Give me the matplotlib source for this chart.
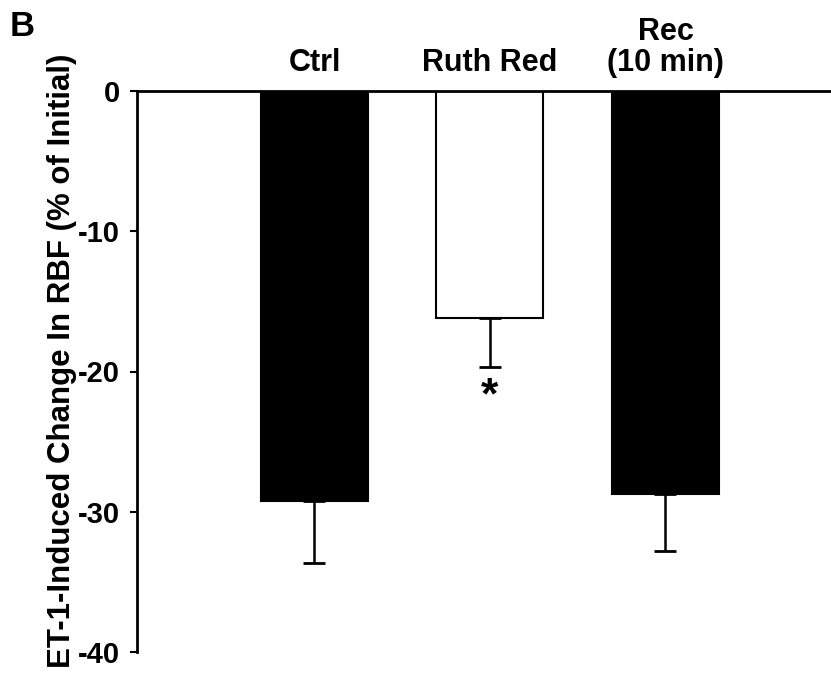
import numpy as np
import matplotlib
matplotlib.use('Agg')
import matplotlib.pyplot as plt

plt.rcParams['font.family'] = ['Liberation Sans', 'DejaVu Sans']
plt.rcParams['font.weight'] = 'bold'

# data
groups = ['Ctrl', 'Ruth Red', 'Rec\n(10 min)']
change = [-29.2, -16.2, -28.7]
sem = [4.45, 3.45, 4.1]
colors = ['black', 'white', 'black']
y_ticks = [0, -10, -20, -30, -40]

fig = plt.figure(figsize=(8.31, 6.73), dpi=100)
ax = fig.add_axes([137 / 831, 1 - 652 / 673, 694 / 831, (652 - 91) / 673])

x = np.arange(len(groups))
ax.bar(x, change, width=0.61, color=colors, edgecolor='black', linewidth=1.5, zorder=2)
# error bars point away from zero only
ax.errorbar(x, change, yerr=[sem, [0] * len(sem)], fmt='none', ecolor='black',
            elinewidth=1.8, capsize=8, capthick=2, zorder=1)

# significance marker under Ruth Red
ax.text(x[1], change[1] - sem[1] - 2.95, '*', ha='center', va='baseline',
        fontsize=32, fontweight='bold')

# group names above the plot
for xi, name in zip(x, groups):
    ax.text(xi, 0.9, name, ha='center', va='bottom', fontsize=22,
            fontweight='bold', linespacing=1.05)

ax.set_xlim(-1.011, 2 + (831 - 665.5) / 175.5)
ax.set_ylim(-40, 0)
ax.set_yticks(y_ticks)
ax.set_yticklabels(['0', '-10', '-20', '-30', '-40'])
ax.set_xticks([])
ax.tick_params(axis='y', direction='out', length=5, width=1.5, pad=7, labelsize=21)
for lab in ax.get_yticklabels():
    lab.set_fontweight('bold')

ax.spines['right'].set_visible(False)
ax.spines['bottom'].set_visible(False)
ax.spines['left'].set_linewidth(2)
ax.spines['top'].set_linewidth(2)

ax.set_ylabel('ET-1-Induced Change In RBF (% of Initial)', fontsize=22.5,
              fontweight='bold')
ax.yaxis.set_label_coords((77 - 137) / 694, (652 - 361) / 561)

fig.text(10 / 831, 1 - 36 / 673, 'B', fontsize=25, fontweight='bold', ha='left', va='baseline')

fig.savefig('out.png', dpi=100)
